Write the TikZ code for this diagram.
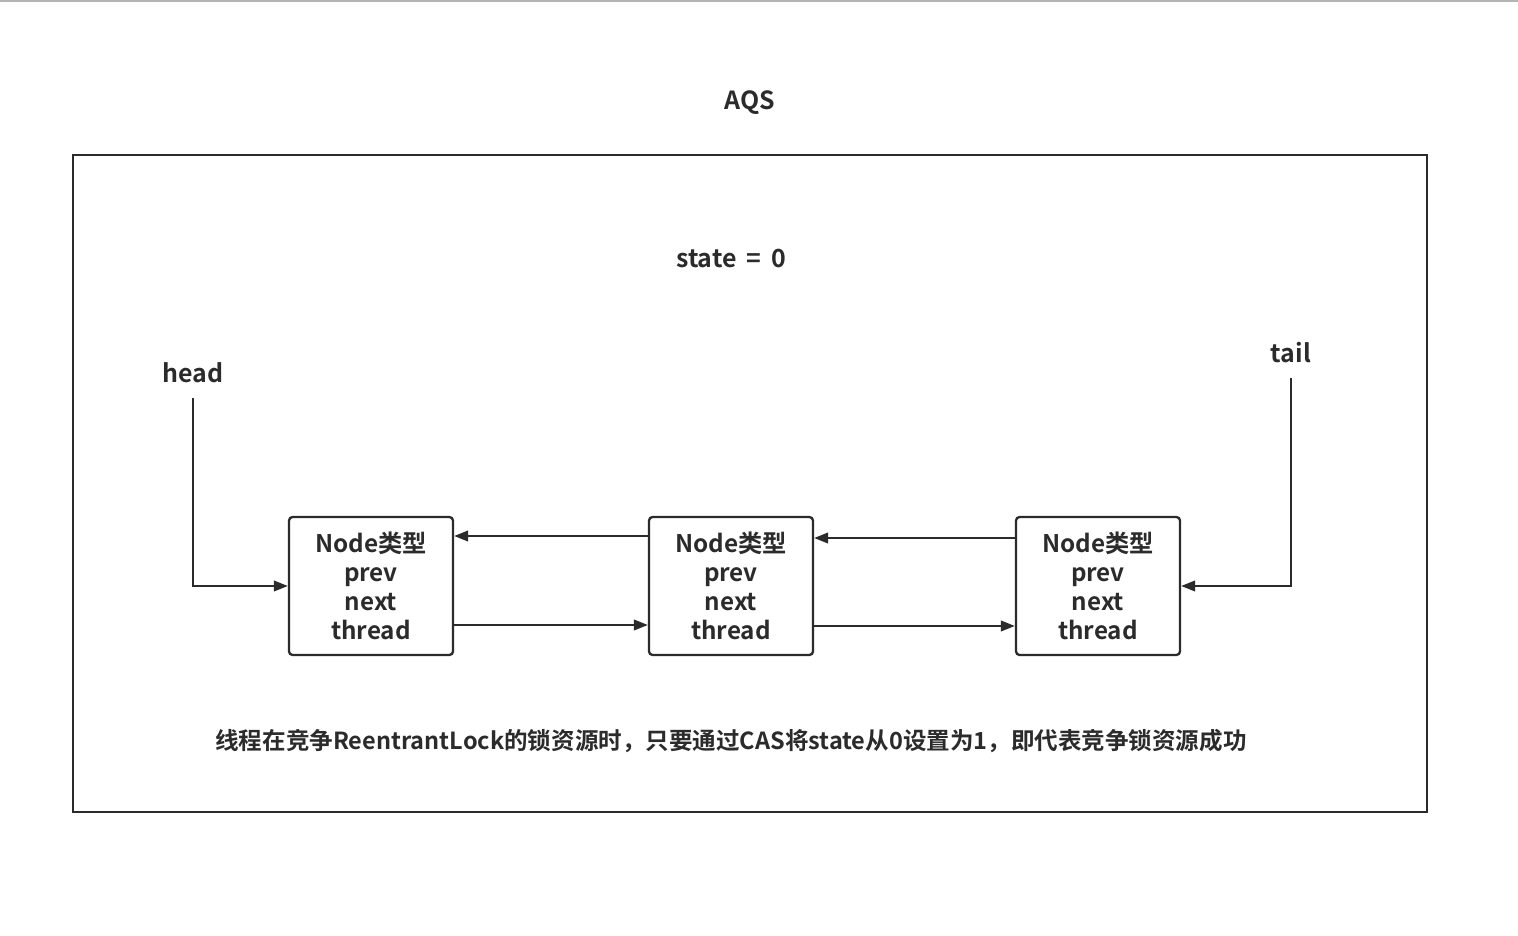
\documentclass[tikz,border=0pt]{standalone}
\usepackage{fontspec}
\setmainfont{Noto Sans CJK SC}[BoldFont={* Bold}]
\usetikzlibrary{arrows.meta,positioning}
\definecolor{ink}{HTML}{2B2B2B}
\definecolor{rule}{HTML}{B4B4B4}

\begin{document}
\begin{tikzpicture}[x=0.02cm, y=-0.02cm,
    label/.style={text=ink, font=\bfseries\fontsize{14.2}{17}\selectfont},
    qnode/.style={draw=ink, line width=1.3pt, rounded corners=2pt, text=ink,
      minimum width=3.28cm, minimum height=2.76cm, align=center,
      font=\bfseries\fontsize{13.8}{16.4}\selectfont},
    link/.style={draw=ink, line width=1.3pt, -{Triangle[length=8pt,width=6pt]}}]
  \useasboundingbox (0,0) rectangle (1518,936);

  % Window edge
  \draw[rule, line width=1.2pt] (0,1) -- (1518,1);

  % Title and frame
  \node[label] (title) at (750,103) {AQS};
  \draw[ink, line width=1.3pt] (73,155) rectangle (1427,812);
  \node[label] (state) at (731,259) {state\ \,=\ \,0};

  % Queue nodes
  \node[qnode] (n1) at (371,586) {Node类型\\prev\\next\\thread};
  \node[qnode] (n2) at (731,586) {Node类型\\prev\\next\\thread};
  \node[qnode] (n3) at (1098,586) {Node类型\\prev\\next\\thread};

  % prev / next links
  \draw[link] ([yshift=1.0cm]n2.west) -- ([yshift=1.0cm]n1.east);
  \draw[link] ([yshift=-0.78cm]n1.east) -- ([yshift=-0.78cm]n2.west);
  \draw[link] ([yshift=0.96cm]n3.west) -- ([yshift=0.96cm]n2.east);
  \draw[link] ([yshift=-0.8cm]n2.east) -- ([yshift=-0.8cm]n3.west);

  % head and tail pointers
  \node[label] (head) at (193,373) {head};
  \node[label] (tail) at (1291,353) {tail};
  \draw[link, shorten <=5pt] (head.south) |- (n1.west);
  \draw[link, shorten <=5pt] (tail.south) |- (n3.east);

  % Note
  \node[text=ink, font=\bfseries\fontsize{13.4}{16}\selectfont] (note) at (731,741)
    {线程在竞争ReentrantLock的锁资源时，只要通过CAS将state从0设置为1，即代表竞争锁资源成功};
\end{tikzpicture}
\end{document}
